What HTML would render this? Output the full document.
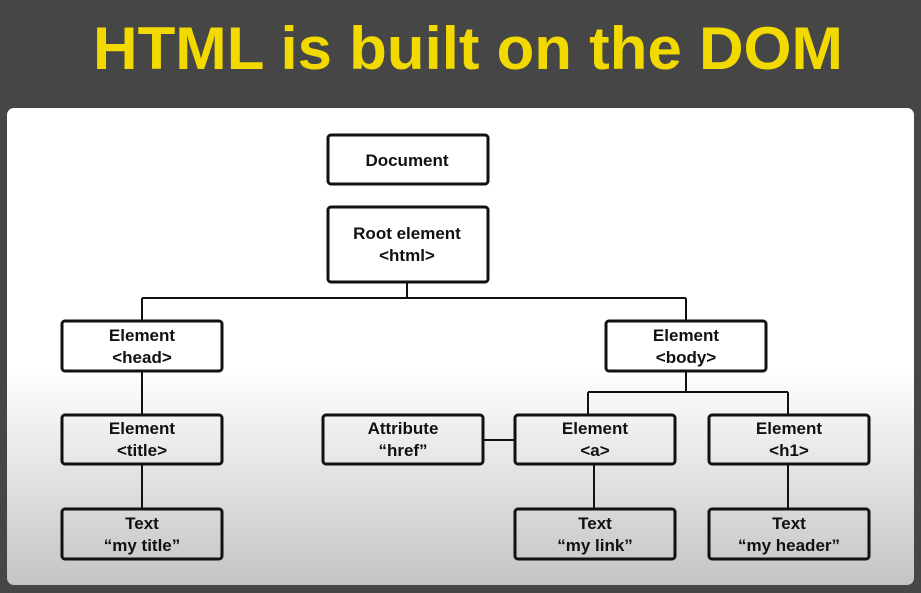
<!DOCTYPE html>
<html><head><style>
html,body{margin:0;padding:0;background:#464646;}
svg{display:block}
text{font-family:"Liberation Sans",sans-serif;}
</style></head><body>
<svg width="921" height="593" viewBox="0 0 921 593" xmlns="http://www.w3.org/2000/svg">
<defs>
<linearGradient id="g" x1="0" y1="0" x2="0" y2="1">
<stop offset="0" stop-color="#ffffff"/>
<stop offset="0.55" stop-color="#ffffff"/>
<stop offset="1" stop-color="#c4c4c4"/>
</linearGradient>
</defs>
<rect width="921" height="593" fill="#464646"/>
<text x="468" y="69" font-size="60" font-weight="bold" fill="#f2d900" text-anchor="middle" textLength="750" lengthAdjust="spacingAndGlyphs">HTML is built on the DOM</text>
<rect x="7" y="108" width="907" height="477" rx="7" fill="url(#g)"/>
<g stroke="#111" stroke-width="2" fill="none">
<path d="M407 282V298M142 298H686M142 298V320M686 298V320"/>
<path d="M686 371V392M588 392H788M588 392V415M788 392V415"/>
<path d="M483 440H514"/>
<path d="M142 371V415M142 464V509M594 464V509M788 464V509"/>
</g>
<g stroke="#111" stroke-width="3" fill="#fff" fill-opacity="0">
<rect x="328" y="135" width="160" height="49" rx="3"/>
<rect x="328" y="207" width="160" height="75" rx="3"/>
<rect x="62" y="321" width="160" height="50" rx="3"/>
<rect x="606" y="321" width="160" height="50" rx="3"/>
<rect x="62" y="415" width="160" height="49" rx="3"/>
<rect x="323" y="415" width="160" height="49" rx="3"/>
<rect x="515" y="415" width="160" height="49" rx="3"/>
<rect x="709" y="415" width="160" height="49" rx="3"/>
<rect x="62" y="509" width="160" height="50" rx="3"/>
<rect x="515" y="509" width="160" height="50" rx="3"/>
<rect x="709" y="509" width="160" height="50" rx="3"/>
</g>
<g font-size="17" font-weight="bold" fill="#111" text-anchor="middle">
<text x="407" y="166">Document</text>
<text x="407" y="239">Root element</text>
<text x="407" y="261">&lt;html&gt;</text>
<text x="142" y="341">Element</text>
<text x="142" y="363">&lt;head&gt;</text>
<text x="686" y="341">Element</text>
<text x="686" y="363">&lt;body&gt;</text>
<text x="142" y="434">Element</text>
<text x="142" y="456">&lt;title&gt;</text>
<text x="403" y="434">Attribute</text>
<text x="403" y="456">“href”</text>
<text x="595" y="434">Element</text>
<text x="595" y="456">&lt;a&gt;</text>
<text x="789" y="434">Element</text>
<text x="789" y="456">&lt;h1&gt;</text>
<text x="142" y="529">Text</text>
<text x="142" y="551">“my title”</text>
<text x="595" y="529">Text</text>
<text x="595" y="551">“my link”</text>
<text x="789" y="529">Text</text>
<text x="789" y="551">“my header”</text>
</g>
</svg>
</body></html>
